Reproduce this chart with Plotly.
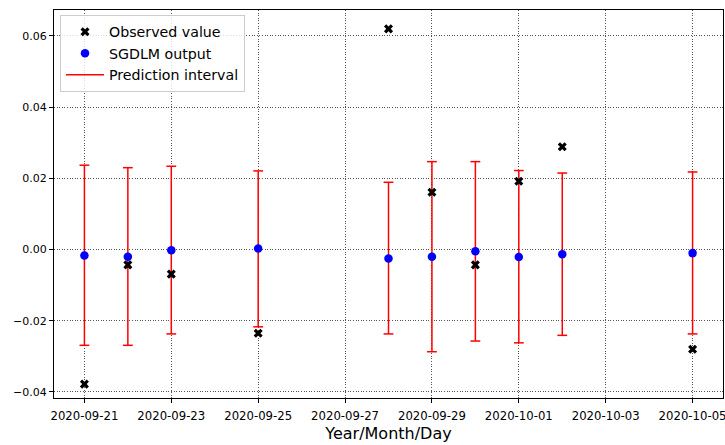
import plotly.graph_objects as go

dates = ["2020-09-21", "2020-09-22", "2020-09-23", "2020-09-25", "2020-09-28",
         "2020-09-29", "2020-09-30", "2020-10-01", "2020-10-02", "2020-10-05"]
observed = [-0.0378, -0.0043, -0.0069, -0.0235, 0.0620,
            0.0161, -0.0043, 0.0192, 0.0289, -0.0280]
sgdlm = [-0.0017, -0.0020, -0.0002, 0.0003, -0.0025,
         -0.0020, -0.0005, -0.0021, -0.0013, -0.0010]
upper = [0.0237, 0.0230, 0.0234, 0.0221, 0.0189,
         0.0247, 0.0247, 0.0222, 0.0215, 0.0218]
lower = [-0.0269, -0.0269, -0.0237, -0.0217, -0.0237,
         -0.0287, -0.0257, -0.0262, -0.0241, -0.0237]

seg_x, seg_y = [], []
for d, lo, hi in zip(dates, lower, upper):
    seg_x += [d, d, None]
    seg_y += [lo, hi, None]

fig = go.Figure()
fig.add_trace(go.Scatter(x=seg_x, y=seg_y, mode="lines", name="Prediction interval",
                         line=dict(color="red", width=1.5), legendrank=3))
fig.add_trace(go.Scatter(x=dates + dates, y=lower + upper, mode="markers", showlegend=False,
                         marker=dict(symbol="line-ew", size=7, line=dict(color="red", width=1.5)),
                         hoverinfo="skip"))
fig.add_trace(go.Scatter(x=dates, y=observed, mode="markers", name="Observed value",
                         marker=dict(symbol="x", size=8, color="black"), legendrank=1))
fig.add_trace(go.Scatter(x=dates, y=sgdlm, mode="markers", name="SGDLM output",
                         marker=dict(symbol="circle", size=8.5, color="blue"), legendrank=2))

axis_common = dict(showline=True, linecolor="black", linewidth=1, mirror=True,
                   ticks="outside", ticklen=4, tickcolor="black", tickwidth=1,
                   showgrid=True, gridcolor="#555", griddash="1px,1.6px", gridwidth=0.8,
                   zeroline=False)

fig.update_layout(
    width=725, height=445,
    margin=dict(l=54, r=2, t=10, b=47, autoexpand=False),
    plot_bgcolor="white", paper_bgcolor="white",
    font=dict(family="DejaVu Sans", color="black"),
    legend=dict(x=0.009, y=0.987, xanchor="left", yanchor="top",
                bordercolor="#cccccc", borderwidth=1, bgcolor="rgba(255,255,255,0.8)",
                font=dict(size=14.2), tracegroupgap=0, itemwidth=38),
    xaxis=dict(axis_common, type="date",
               range=["2020-09-20 07:12", "2020-10-05 16:48"],
               tick0="2020-09-21", dtick=2 * 86400000, tickformat="%Y-%m-%d",
               tickfont=dict(size=11.7, color="black"), ticklabelstandoff=3,
               ticklabeloverflow="allow",
               title=dict(text="Year/Month/Day", font=dict(size=16), standoff=5)),
    yaxis=dict(axis_common, range=[-0.0417, 0.0673], tickformat=".2f",
               tickfont=dict(size=11, color="black"),
               tickvals=[-0.04, -0.02, 0.0, 0.02, 0.04, 0.06]),
)

fig.write_html("out.html", post_script="document.body.style.margin='0';",
               config={"displayModeBar": False})
